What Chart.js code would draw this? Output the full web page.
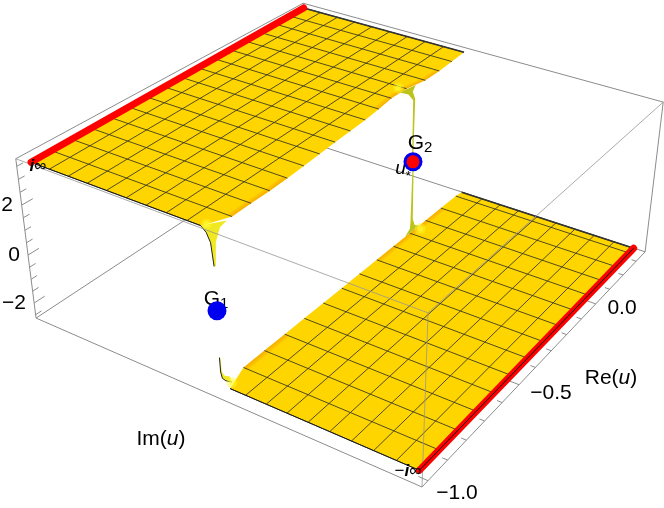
<!DOCTYPE html>
<html>
<head>
<meta charset="utf-8">
<style>
  html, body { margin: 0; padding: 0; background: #ffffff; }
  canvas { display: block; }
</style>
<script src="https://cdn.jsdelivr.net/npm/chart.js@4"></script>
</head>
<body>
<canvas id="myChart" width="664" height="508"></canvas>
<script>
// plot box ranges
const reRange = [-1.03, 0.37];
const imRange = [-1.0417, 1.0417];
const zRange = [-2.643, 3.788];

// axis ticks
const reTicks = [-1, -0.9, -0.8, -0.7, -0.6, -0.5, -0.4, -0.3, -0.2, -0.1, 0, 0.1, 0.2, 0.3];
const reMajor = [-1, -0.5, 0];
const zTicks = [-2.5, -2, -1.5, -1, -0.5, 0, 0.5, 1, 1.5, 2, 2.5, 3, 3.5];
const zMajor = [-2, 0, 2];

// surface mesh
const upperMeshRe = [-1, -0.917, -0.833, -0.75, -0.666, -0.583, -0.5, -0.416, -0.333, -0.249, -0.166, -0.083, 0, 0.084, 0.168, 0.251, 0.335];
const lowerMeshRe = [-1, -0.9, -0.8, -0.7, -0.6, -0.5, -0.4, -0.3, -0.2, -0.1, 0, 0.1, 0.2, 0.3, 0.335];
const upperMeshIm = [1, 0.892, 0.783, 0.675, 0.567, 0.458, 0.35, 0.242, 0.133];
const lowerMeshIm = [-1, -0.892, -0.783, -0.675, -0.567, -0.458, -0.35, -0.242, -0.133];
const upperEdgeIm = [0.06, 0, 0, -0.003, -0.001, 0.003, 0.0075, 0.013, 0.016, 0.02, 0.0275, 0.039, 0.034, 0.007, 0.0055, 0.009, 0.014];
const lowerEdgeIm = [-0.05, -0.005, -0.005, -0.005, -0.005, -0.005, -0.005, -0.005, -0.005, -0.005, -0.005, -0.005, -0.005, -0.005, -0.01];
const upperZ = [3.595, 3.607, 3.62, 3.632, 3.645, 3.657, 3.67, 3.683, 3.695, 3.708, 3.72, 3.733, 3.745, 3.758, 3.77, 3.783, 3.795];
const lowerZ = [-2.386, -2.386, -2.386, -2.386, -2.386, -2.386, -2.386, -2.386, -2.386, -2.386, -2.386, -2.386, -2.386, -2.386, -2.386];

// stretches of the cut where the surface turns orange
const orangeFrom = [-0.95, -0.2];
const orangeTo = [-0.64, 0.2];

// funnels at the two saddle points, re / im / z
const upLeftRe = [-1, -1, -1, -1, -0.995, -0.99, -0.97, -0.94];
const upLeftIm = [0.0625, 0.035, 0.015, 0.003, 0, 0, 0, 0];
const upLeftZ = [3.595, 3.415, 3.095, 2.245, 2.245, 3.095, 3.525, 3.595];
const lowLeftRe = [-1, -0.998, -0.992, -0.985, -0.975, -0.96, -0.97, -0.983, -0.993, -0.9965];
const lowLeftIm = [0, 0, 0, -0.01, -0.03, 0, 0, 0, 0, 0];
const lowLeftZ = [-1.286, -1.886, -2.186, -2.306, -2.366, -2.336, -2.256, -2.136, -1.886, -1.286];
const upRightRe = [-0.035, -0.014, -0.006, -0.003, 0.003, 0.006, 0.012, 0.04];
const upRightIm = [0.04, 0.01, -0.01, -0.01, -0.01, -0.01, 0.01, 0.02];
const upRightZ = [3.745, 3.625, 3.395, 0.7, 0.7, 3.395, 3.625, 3.745];
const lowRightRe = [-0.03, 0, 0.008, 0.012, 0.018, 0.022, 0.03, 0.06];
const lowRightIm = [-0.005, -0.005, 0, 0, 0, 0, -0.005, -0.005];
const lowRightZ = [-2.386, -2.186, -1.886, 0.7, 0.7, -1.886, -2.186, -2.386];

// yellow glow at funnel feet
const glowRe = [-0.985, -0.975, -0.01, 0.045];
const glowIm = [0.05, -0.03, 0.07, -0.025];
const glowZ = [3.595, -2.386, 3.745, -2.386];

// critical points G1, G2
const pointRe = [-1, -0.008];
const pointIm = [0, -0.02];
const pointZ = [0.57, 0.85];

const cameraX = [422, 393.4, -380.1, -24.7];
const cameraY = [487, -168.7, -117.3, -196.6];
const cameraW = [1, 0.264, 0.1623, -0.0718];

const GOLD = "#ffd500";
const BOX = "#8c8c8c";
const MESH = "rgba(50,50,40,0.85)";

function project(re, im, z) {
    const a = (re - reRange[0]) / (reRange[1] - reRange[0]);
    const b = (im - imRange[0]) / (imRange[1] - imRange[0]);
    const c = (z - zRange[0]) / (zRange[1] - zRange[0]);
    const w = cameraW[0] + cameraW[1] * a + cameraW[2] * b + cameraW[3] * c;
    return {
        x: (cameraX[0] + cameraX[1] * a + cameraX[2] * b + cameraX[3] * c) / w,
        y: (cameraY[0] + cameraY[1] * a + cameraY[2] * b + cameraY[3] * c) / w,
    };
}

const layers = [];

function addLine(pts, color, width, cap) {
    layers.push({
        data: pts.map(p => project(p[0], p[1], p[2])),
        showLine: true, fill: false, tension: 0, pointRadius: 0,
        borderColor: color, borderWidth: width, borderCapStyle: cap || "butt",
        borderJoinStyle: "round", clip: false,
    });
}

function addShape(pts, color) {
    layers.push({
        data: pts.map(p => project(p[0], p[1], p[2])),
        showLine: true, fill: "shape", tension: 0, pointRadius: 0,
        borderWidth: 0, borderColor: color, backgroundColor: color, clip: false,
    });
}

function addEdge(a, b, color) {
    addLine([a, b], color, 1);
}

function zip3(xs, ys, zs) {
    return xs.map((x, i) => [x, ys[i], zs[i]]);
}

const R0 = reRange[0], R1 = reRange[1], I0 = imRange[0], I1 = imRange[1], Z0 = zRange[0], Z1 = zRange[1];

// box edges behind the surface
addEdge([R0, I1, Z0], [R1, I1, Z0], BOX);
addEdge([R1, I1, Z0], [R1, I0, Z0], BOX);
addEdge([R1, I1, Z0], [R1, I1, Z1], BOX);
addEdge([R0, I1, Z1], [R1, I1, Z1], BOX);
addEdge([R1, I1, Z1], [R1, I0, Z1], BOX);
addEdge([R1, I0, Z0], [R1, I0, Z1], BOX);

function addPlateau(zs, farIm, meshRe, edgeIm, meshIm, bandDir) {
    const n = meshRe.length - 1;
    const edge = meshRe.map((re, i) => [re, edgeIm[i], zs[i]]);
    const far = meshRe.map((re, i) => [re, farIm, zs[i]]);
    addShape(far.concat(edge.slice().reverse()), GOLD);
    // orange shading along the cut, only near the funnels
    orangeFrom.forEach((from, k) => {
        const part = edge.filter(p => p[0] >= from && p[0] <= orangeTo[k]);
        [0.012, 0.025].forEach(w => {
            const inner = part.map(p => [p[0], p[1] + bandDir * w, p[2]]);
            addShape(part.concat(inner.reverse()), "rgba(240,140,0,0.25)");
        });
    });
    // mesh lines
    meshRe.forEach((re, i) => addLine([far[i], edge[i]], MESH, 1));
    meshIm.forEach(im => addLine(meshRe.map((re, i) => [re, im, zs[i]]), MESH, 1));
    // boundary
    addLine([far[0], edge[0]], "#1a1a1a", 1);
    addLine([far[n], edge[n]], "#333333", 1.5);
}

function addGlow() {
    const pts = glowRe.map((re, i) => project(re, glowIm[i], glowZ[i]));
    layers.push({
        data: pts, showLine: false, pointRadius: 5.5, pointBorderWidth: 0,
        pointBackgroundColor: "rgba(255,250,50,0.4)", clip: false,
    });
    layers.push({
        data: pts, showLine: false, pointRadius: 3, pointBorderWidth: 0,
        pointBackgroundColor: "rgba(255,255,50,0.55)", clip: false,
    });
}

addPlateau(lowerZ, -1, lowerMeshRe, lowerEdgeIm, lowerMeshIm, -1);
addShape(zip3(lowRightRe, lowRightIm, lowRightZ), "#bcc41c");
addShape(zip3(lowLeftRe, lowLeftIm, lowLeftZ), "#f0e820");
addLine(zip3(lowLeftRe, lowLeftIm, lowLeftZ).slice(0, 5), "#222222", 1);

addPlateau(upperZ, 1, upperMeshRe, upperEdgeIm, upperMeshIm, 1);
addShape(zip3(upRightRe, upRightIm, upRightZ), "#bcc41c");
addShape(zip3(upLeftRe, upLeftIm, upLeftZ), "#f0e820");
addLine(zip3(upLeftRe, upLeftIm, upLeftZ).slice(0, 4), "#222222", 1);
addGlow();

// front box edges, see-through over the surface
const FRONT = "rgba(150,150,150,0.8)";
addEdge([R0, I1, Z1], [R0, I0, Z1], FRONT);
addEdge([R0, I0, Z1], [R1, I0, Z1], FRONT);
addEdge([R0, I0, Z0], [R0, I0, Z1], FRONT);
addEdge([R0, I1, Z0], [R0, I0, Z0], BOX);
addEdge([R0, I0, Z0], [R1, I0, Z0], BOX);
addEdge([R0, I1, Z0], [R0, I1, Z1], BOX);

// ticks
reTicks.forEach(t => {
    const len = reMajor.includes(t) ? 0.045 : 0.025;
    addLine([[t, I0, Z0], [t, I0 + len, Z0]], BOX, 1);
});
zTicks.forEach(t => {
    const len = zMajor.includes(t) ? 0.045 : 0.025;
    addLine([[R0, I1, t], [R0 + len, I1, t]], BOX, 1);
});

// the two red lines at plus and minus i infinity
const lastRe = upperMeshRe[upperMeshRe.length - 1];
addLine([[-1, 1, upperZ[0]], [lastRe, 1, upperZ[upperZ.length - 1]]], "#ff0000", 7, "round");
addLine([[-1, -1, lowerZ[0]], [lastRe, -1, lowerZ[0]]], "#ff0000", 7, "round");
addLine([[-1, -1, lowerZ[0]], [lastRe, -1, lowerZ[0]]], "#111111", 1);

const textLayer = layers.length - 1;

// G1, G2 and the red u* on top
layers.push({
    data: pointRe.map((re, i) => project(re, pointIm[i], pointZ[i])),
    showLine: false, pointRadius: 9.5, pointBorderWidth: 0,
    pointBackgroundColor: "#0000f0", clip: false,
});
layers.push({
    data: [project(pointRe[1], pointIm[1], pointZ[1])],
    showLine: false, pointRadius: 6.5, pointBorderWidth: 0,
    pointBackgroundColor: "#ff0000", clip: false,
});

const SANS = '"Liberation Sans"';
const textItems = [
    { x: 13, y: 205, align: "right", runs: [["2", "21px " + SANS]] },
    { x: 20, y: 255, align: "right", runs: [["0", "21px " + SANS]] },
    { x: 26, y: 303, align: "right", runs: [["\u22122", "21px " + SANS]] },
    { x: 457, y: 493, runs: [["\u22121.0", "21px " + SANS]] },
    { x: 551, y: 393, runs: [["\u22120.5", "21px " + SANS]] },
    { x: 622, y: 308, runs: [["0.0", "21px " + SANS]] },
    { x: 611, y: 378, runs: [["Re(", "21px " + SANS], ["u", "italic 21px " + SANS], [")", "21px " + SANS]] },
    { x: 161, y: 439, runs: [["Im(", "21px " + SANS], ["u", "italic 21px " + SANS], [")", "21px " + SANS]] },
    { x: 216, y: 299, runs: [["G", "21px " + SANS], ["1", "15px " + SANS, 5]] },
    { x: 420, y: 143, runs: [["G", "21px " + SANS], ["2", "15px " + SANS, 5]] },
    { x: 403, y: 169, runs: [["u", "italic 19px " + SANS], ["*", "13px " + SANS, 7]] },
    { x: 38, y: 166, runs: [["i", "italic bold 17px " + SANS], ["\u221e", "17px " + SANS]] },
    { x: 408, y: 471, runs: [["\u2212", "17px " + SANS], ["i", "italic bold 17px " + SANS], ["\u221e", "17px " + SANS]] },
];

function drawTexts(chart) {
    const c = chart.ctx;
    const sx = chart.scales.x, sy = chart.scales.y;
    c.save();
    c.fillStyle = "#000000";
    c.textBaseline = "middle";
    c.textAlign = "left";
    textItems.forEach(item => {
        let total = 0;
        item.runs.forEach(r => { c.font = r[1]; total += c.measureText(r[0]).width; });
        let x = sx.getPixelForValue(item.x) - (item.align === "right" ? total : total / 2);
        const y = sy.getPixelForValue(item.y);
        item.runs.forEach(r => {
            c.font = r[1];
            c.fillText(r[0], x, y + (r[2] || 0));
            x += c.measureText(r[0]).width;
        });
    });
    c.restore();
}

// the blue dots sit on top of the labels, so draw text just before them
const datasets = layers.slice().reverse();
const labelPlugin = {
    id: "labelPlugin",
    afterDatasetDraw(chart, args) {
        if (args.index === layers.length - 1 - textLayer) drawTexts(chart);
    },
};

const ctx = document.getElementById("myChart").getContext("2d");
const myChart = new Chart(ctx, {
    type: "scatter",
    data: { datasets },
    options: {
        responsive: false,
        animation: false,
        layout: { padding: 0, autoPadding: false },
        plugins: { legend: { display: false }, tooltip: { enabled: false } },
        scales: {
            x: { type: "linear", min: 0, max: 664, display: false },
            y: { type: "linear", min: 0, max: 508, reverse: true, display: false },
        },
    },
    plugins: [labelPlugin],
});
</script>
</body>
</html>
